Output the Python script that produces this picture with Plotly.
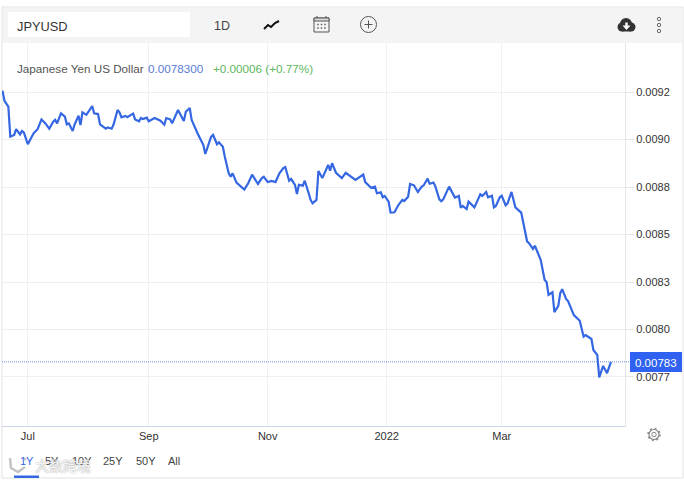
import plotly.graph_objects as go

W, H = 684, 480

dates = [
    "2021-06-18", "2021-06-19", "2021-06-21", "2021-06-22", "2021-06-24", "2021-06-25", "2021-06-27", "2021-06-28",
    "2021-06-29", "2021-07-01", "2021-07-03", "2021-07-04", "2021-07-06", "2021-07-08", "2021-07-10", "2021-07-12",
    "2021-07-14", "2021-07-15", "2021-07-16", "2021-07-18", "2021-07-20", "2021-07-21", "2021-07-22", "2021-07-24",
    "2021-07-25", "2021-07-27", "2021-07-28", "2021-07-29", "2021-07-31", "2021-08-03", "2021-08-04", "2021-08-06",
    "2021-08-07", "2021-08-09", "2021-08-10", "2021-08-11", "2021-08-13", "2021-08-14", "2021-08-16", "2021-08-17",
    "2021-08-18", "2021-08-20", "2021-08-21", "2021-08-24", "2021-08-25", "2021-08-27", "2021-08-28", "2021-08-29",
    "2021-08-31", "2021-09-01", "2021-09-04", "2021-09-07", "2021-09-09", "2021-09-10", "2021-09-12", "2021-09-13",
    "2021-09-16", "2021-09-19", "2021-09-20", "2021-09-22", "2021-09-23", "2021-09-26", "2021-09-27", "2021-09-29",
    "2021-09-30", "2021-10-02", "2021-10-03", "2021-10-04", "2021-10-06", "2021-10-07", "2021-10-09", "2021-10-10",
    "2021-10-12", "2021-10-13", "2021-10-14", "2021-10-16", "2021-10-18", "2021-10-20", "2021-10-22", "2021-10-24",
    "2021-10-27", "2021-10-29", "2021-10-30", "2021-11-01", "2021-11-03", "2021-11-05", "2021-11-07", "2021-11-09",
    "2021-11-10", "2021-11-12", "2021-11-13", "2021-11-15", "2021-11-16", "2021-11-17", "2021-11-19", "2021-11-20",
    "2021-11-22", "2021-11-23", "2021-11-24", "2021-11-26", "2021-11-27", "2021-11-29", "2021-12-02", "2021-12-03",
    "2021-12-04", "2021-12-06", "2021-12-09", "2021-12-11", "2021-12-16", "2021-12-20", "2021-12-21", "2021-12-24",
    "2021-12-26", "2021-12-27", "2021-12-29", "2021-12-30", "2021-12-31", "2022-01-02", "2022-01-03", "2022-01-05",
    "2022-01-07", "2022-01-09", "2022-01-10", "2022-01-12", "2022-01-13", "2022-01-15", "2022-01-17", "2022-01-19",
    "2022-01-20", "2022-01-22", "2022-01-23", "2022-01-25", "2022-01-26", "2022-01-28", "2022-01-29", "2022-01-30",
    "2022-02-02", "2022-02-05", "2022-02-07", "2022-02-08", "2022-02-09", "2022-02-11", "2022-02-12", "2022-02-15",
    "2022-02-18", "2022-02-19", "2022-02-21", "2022-02-22", "2022-02-24", "2022-02-25", "2022-02-26", "2022-02-28",
    "2022-03-01", "2022-03-03", "2022-03-04", "2022-03-06", "2022-03-08", "2022-03-11", "2022-03-14", "2022-03-15",
    "2022-03-17", "2022-03-18", "2022-03-21", "2022-03-23", "2022-03-24", "2022-03-25", "2022-03-27", "2022-03-28",
    "2022-03-30", "2022-03-31", "2022-04-01", "2022-04-03", "2022-04-04", "2022-04-06", "2022-04-07", "2022-04-10",
    "2022-04-12", "2022-04-13", "2022-04-16", "2022-04-17", "2022-04-19", "2022-04-20", "2022-04-22", "2022-04-24",
    "2022-04-26",
]

values = [
    0.009257, 0.009204, 0.009173, 0.009015, 0.009024, 0.009055, 0.009027, 0.009045,
    0.009036, 0.008975, 0.009015, 0.009033, 0.009054, 0.009106, 0.009085, 0.009057,
    0.009094, 0.009104, 0.009085, 0.009138, 0.009120, 0.009080, 0.009085, 0.009045,
    0.009080, 0.009125, 0.009076, 0.009143, 0.009130, 0.009176, 0.009138, 0.009134,
    0.009080, 0.009066, 0.009057, 0.009064, 0.009057, 0.009080, 0.009155, 0.009143,
    0.009117, 0.009124, 0.009117, 0.009136, 0.009106, 0.009096, 0.009113, 0.009108,
    0.009115, 0.009096, 0.009113, 0.009099, 0.009078, 0.009113, 0.009106, 0.009085,
    0.009155, 0.009097, 0.009146, 0.009166, 0.009103, 0.009033, 0.009012, 0.008971,
    0.008924, 0.008988, 0.009015, 0.009024, 0.008975, 0.008985, 0.008962, 0.008909,
    0.008822, 0.008804, 0.008822, 0.008773, 0.008757, 0.008736, 0.008770, 0.008815,
    0.008766, 0.008797, 0.008804, 0.008776, 0.008782, 0.008776, 0.008822, 0.008850,
    0.008855, 0.008783, 0.008792, 0.008761, 0.008713, 0.008762, 0.008757, 0.008783,
    0.008717, 0.008682, 0.008664, 0.008682, 0.008834, 0.008797, 0.008866, 0.008836,
    0.008875, 0.008825, 0.008797, 0.008825, 0.008787, 0.008815, 0.008776, 0.008746,
    0.008752, 0.008717, 0.008722, 0.008696, 0.008703, 0.008673, 0.008615, 0.008617,
    0.008655, 0.008682, 0.008676, 0.008699, 0.008766, 0.008759, 0.008724, 0.008752,
    0.008759, 0.008794, 0.008767, 0.008773, 0.008752, 0.008685, 0.008675, 0.008685,
    0.008752, 0.008694, 0.008703, 0.008641, 0.008650, 0.008634, 0.008673, 0.008643,
    0.008712, 0.008703, 0.008724, 0.008696, 0.008704, 0.008643, 0.008650, 0.008696,
    0.008704, 0.008654, 0.008664, 0.008724, 0.008643, 0.008615, 0.008464, 0.008454,
    0.008424, 0.008441, 0.008366, 0.008261, 0.008250, 0.008182, 0.008196, 0.008091,
    0.008124, 0.008191, 0.008212, 0.008161, 0.008150, 0.008099, 0.008076, 0.008046,
    0.007962, 0.007970, 0.007950, 0.007892, 0.007866, 0.007748, 0.007808, 0.007770,
    0.007830,
]

tick_dates = ["2021-07-01", "2021-09-01", "2021-11-01", "2022-01-01", "2022-03-01"]
tick_months = ["Jul", "Sep", "Nov", "2022", "Mar"]

price_ticks = [0.00925, 0.0090, 0.00875, 0.0085, 0.00825, 0.0080, 0.00775]
price_labels = ["0.0092", "0.0090", "0.0088", "0.0085", "0.0083", "0.0080", "0.0077"]

range_buttons = ["1Y", "5Y", "10Y", "25Y", "50Y", "All"]
range_button_x = [27, 52, 82, 113, 146, 174]

last_price = 0.00783

BLUE = "#3567e3"
FONT = "Liberation Sans, Arial, sans-serif"


# everything outside the plot is placed in page pixels
def px(x):
    return x / W


def py(y):
    return 1 - y / H


def path(points, close=False):
    d = "M " + " L ".join(f"{px(x):.5f},{py(y):.5f}" for x, y in points)
    return d + (" Z" if close else "")


def box(x0, y0, x1, y1, **kw):
    return dict(type="rect", xref="paper", yref="paper", x0=px(x0), x1=px(x1), y0=py(y0), y1=py(y1), **kw)


def circle(cx, cy, r, **kw):
    return dict(type="circle", xref="paper", yref="paper", x0=px(cx - r), x1=px(cx + r), y0=py(cy - r), y1=py(cy + r), **kw)


def stroke(x0, y0, x1, y1, **kw):
    return dict(type="line", xref="paper", yref="paper", x0=px(x0), x1=px(x1), y0=py(y0), y1=py(y1), **kw)


def label(x, y, text, size=12, color="#444444", xanchor="left", family=FONT, **kw):
    return dict(xref="paper", yref="paper", x=px(x), y=py(y), text=text, showarrow=False, xanchor=xanchor,
                yanchor="middle", font=dict(family=family, size=size, color=color, **kw))


fig = go.Figure()

fig.add_trace(go.Scatter(
    x=dates,
    y=values,
    mode="lines",
    line=dict(color=BLUE, width=2.2),
    hoverinfo="skip",
    showlegend=False,
))

no_line = dict(width=0)
grey_line = dict(color="#555555", width=1)

shapes = [
    # card and toolbar
    box(2, 7, 683, 478, line=dict(color="#e2e2e2", width=1), fillcolor="rgba(0,0,0,0)", layer="below"),
    box(3, 8, 682, 43, line=no_line, fillcolor="#f4f4f4", layer="below"),
    box(8, 12, 190, 37, line=no_line, fillcolor="#ffffff", layer="below"),
    # line chart icon
    dict(type="path", xref="paper", yref="paper", line=dict(color="#111111", width=2),
         path=path([(264, 29), (268, 25), (271, 27), (275, 23), (279, 21)])),
    # calendar icon
    box(314, 18, 329, 32, line=grey_line),
    box(314, 18, 329, 21, line=grey_line, fillcolor="#dddddd"),
    stroke(317, 16, 317, 18, line=grey_line),
    stroke(326, 16, 326, 18, line=grey_line),
    # plus icon
    circle(368.5, 24.5, 8, line=grey_line),
    stroke(364.5, 24.5, 372.5, 24.5, line=grey_line),
    stroke(368.5, 20.5, 368.5, 28.5, line=grey_line),
    # cloud download icon
    circle(622, 27, 4.5, line=no_line, fillcolor="#333333"),
    circle(626, 24, 6, line=no_line, fillcolor="#333333"),
    circle(631, 27, 4.5, line=no_line, fillcolor="#333333"),
    box(622, 27, 631, 31.5, line=no_line, fillcolor="#333333"),
    box(625.3, 22.5, 627.7, 26, line=no_line, fillcolor="#ffffff"),
    dict(type="path", xref="paper", yref="paper", line=no_line, fillcolor="#ffffff",
         path=path([(622.5, 25.5), (626.5, 30), (630.5, 25.5)], close=True)),
    # menu dots
    circle(659, 19, 1.7, line=dict(color="#666666", width=1)),
    circle(659, 25, 1.7, line=dict(color="#666666", width=1)),
    circle(659, 31, 1.7, line=dict(color="#666666", width=1)),
    # last price line and its tag
    dict(type="line", xref="paper", yref="y", x0=px(2), x1=px(630), y0=last_price, y1=last_price,
         line=dict(color="#6f8fe8", width=1, dash="1px,1px")),
    box(630, 352, 682, 372, line=no_line, fillcolor="#2f62f0"),
    # settings gear
    circle(654, 434.5, 5, line=dict(color="#888888", width=1.2)),
    circle(654, 434.5, 6, line=dict(color="#888888", width=1.5, dash="2px,2.7px")),
    circle(654, 434.5, 2.2, line=dict(color="#888888", width=1)),
    # active range underline
    box(14, 475.5, 39, 478, line=no_line, fillcolor=BLUE),
    # watermark logo
    dict(type="path", xref="paper", yref="paper", line=dict(color="#c4c4c4", width=2.5),
         path=path([(10, 458), (11, 468), (18, 472), (25, 467)])),
    circle(25, 459, 1.5, line=no_line, fillcolor="#c8c8c8"),
]

# calendar dots
for row_y in [24.5, 28]:
    for dot_x in [318, 321.5, 325]:
        shapes.append(box(dot_x - 0.7, row_y - 0.7, dot_x + 0.7, row_y + 0.7, line=no_line, fillcolor="#555555"))

annotations = [
    label(15, 26.5, "JPYUSD", size=12.8, color="#333333"),
    label(222, 26.5, "1D", size=12.5, color="#444444", xanchor="center"),
    label(15, 68.5, "Japanese Yen US Dollar", size=11.7, color="#555555"),
    label(146, 68.5, "0.0078300", size=11.7, color="#5b7bd8"),
    label(211, 68.5, "+0.00006 (+0.77%)", size=11.7, color="#5cb85c"),
    label(656, 362.5, "0.00783", size=11.5, color="#ffffff", xanchor="center"),
]
for name, x in zip(range_buttons, range_button_x):
    annotations.append(label(x, 460.5, name, size=11, color=BLUE if name == "1Y" else "#444444", xanchor="center"))
annotations.append(label(33, 465, "大数跨境", size=14, color="rgba(255,255,255,0.9)", family="Noto Sans CJK SC",
                         shadow="0px 0px 1.5px #777777"))

fig.update_layout(
    width=W,
    height=H,
    margin=dict(l=0, r=0, t=0, b=0),
    paper_bgcolor="#ffffff",
    plot_bgcolor="#ffffff",
    font=dict(family=FONT, size=11, color="#333333"),
    shapes=shapes,
    annotations=annotations,
    xaxis=dict(
        domain=[px(2), px(625)],
        range=["2021-06-17 18:00", "2022-05-03 05:00"],
        tickmode="array",
        tickvals=tick_dates,
        ticktext=tick_months,
        ticks="",
        showgrid=True,
        gridcolor="#eef1f6",
        gridwidth=1,
        showline=True,
        linecolor="#ccd6eb",
        zeroline=False,
    ),
    yaxis=dict(
        domain=[py(426), py(43)],
        range=[0.007492, 0.009508],
        side="right",
        tickmode="array",
        tickvals=price_ticks,
        ticktext=price_labels,
        ticks="outside",
        ticklen=8,
        tickcolor="#e6e6e6",
        showgrid=True,
        gridcolor="#eceef1",
        gridwidth=1,
        showline=True,
        linecolor="#e6e6e6",
        zeroline=False,
    ),
)

fig.write_html("out.html", config={"displayModeBar": False}, post_script="document.body.style.margin='0';")
